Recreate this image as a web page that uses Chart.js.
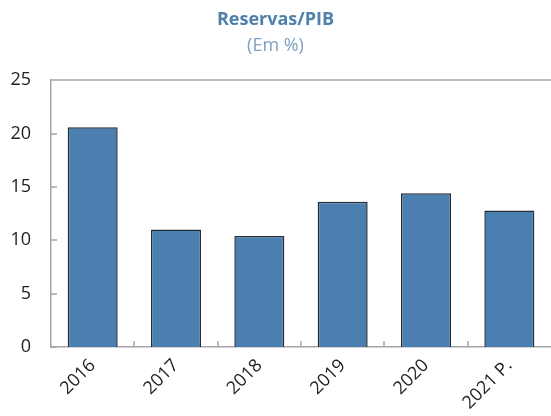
<!DOCTYPE html>
<html>
<head>
<meta charset="utf-8">
<script src="https://cdn.jsdelivr.net/npm/chart.js@4"></script>
<style>
  html, body { margin: 0; padding: 0; background: #fff; }
  #wrap { width: 551px; height: 416px; position: relative; }
</style>
</head>
<body>
<div id="wrap"><canvas id="grafico"></canvas></div>
<script>
// dados
const anos = ['2016', '2017', '2018', '2019', '2020', '2021 P.']
const reservasPib = [20.6, 11.0, 10.4, 13.6, 14.4, 12.8]
const yTicks = [0, 5, 10, 15, 20, 25]

const corEixo = '#a6a6a6'

// marcas pequenas para dentro da area do grafico
const marcasInternas = {
    id: 'marcasInternas',
    afterDatasetsDraw(chart) {
        const ctx = chart.ctx
        const area = chart.chartArea
        const x = chart.scales.x
        const y = chart.scales.y
        ctx.save()
        ctx.strokeStyle = corEixo
        ctx.lineWidth = 1.5
        ctx.beginPath()
        yTicks.forEach(v => {
            const py = Math.round(y.getPixelForValue(v))
            ctx.moveTo(area.left, py)
            ctx.lineTo(area.left + 6, py)
        })
        for (let i = 0; i < anos.length - 1; i++) {
            const px = Math.round((x.getPixelForValue(i) + x.getPixelForValue(i + 1)) / 2)
            ctx.moveTo(px, area.bottom)
            ctx.lineTo(px, area.bottom - 6)
        }
        // linha de cima
        const top = Math.round(area.top)
        ctx.moveTo(area.left, top)
        ctx.lineTo(area.right, top)
        ctx.stroke()
        ctx.restore()
    }
}

const config = {
    type: 'bar',
    data: {
        labels: anos,
        datasets: [
            {
                label: 'Reservas/PIB',
                data: reservasPib,
                backgroundColor: '#4a7fb0',
                borderColor: '#222d38',
                borderWidth: 1.5,
                categoryPercentage: 0.6,
                barPercentage: 1.0
            }
        ]
    },
    options: {
        responsive: true,
        maintainAspectRatio: false,
        animation: false,
        layout: { padding: { left: 0, right: 0, top: 0, bottom: 0 } },
        plugins: {
            legend: { display: false },
            tooltip: { enabled: false },
            title: {
                display: true,
                text: 'Reservas/PIB',
                color: '#4f7fab',
                font: { family: 'Open Sans', size: 18, weight: 'bold' },
                padding: { top: 9, bottom: 2 }
            },
            subtitle: {
                display: true,
                text: '(Em %)',
                color: '#7f9fc0',
                font: { family: 'Open Sans', size: 18 },
                padding: { top: 2, bottom: 24 }
            }
        },
        scales: {
            x: {
                offset: true,
                grid: { display: false, drawTicks: false },
                border: { display: true, color: corEixo, width: 1.5 },
                ticks: {
                    color: '#222',
                    font: { family: 'Open Sans', size: 18 },
                    minRotation: 45,
                    maxRotation: 45,
                    padding: 8
                },
                afterFit(scale) { scale.height = 69 }
            },
            y: {
                min: 0,
                max: 25,
                grid: { display: false, drawTicks: false },
                border: { display: true, color: corEixo, width: 1.5 },
                ticks: {
                    stepSize: 5,
                    color: '#222',
                    font: { family: 'Open Sans', size: 18 },
                    padding: 20
                },
                afterFit(scale) { scale.width = 51 }
            }
        }
    },
    plugins: [marcasInternas]
}

const grafico = new Chart(document.getElementById('grafico'), config)
</script>
</body>
</html>
